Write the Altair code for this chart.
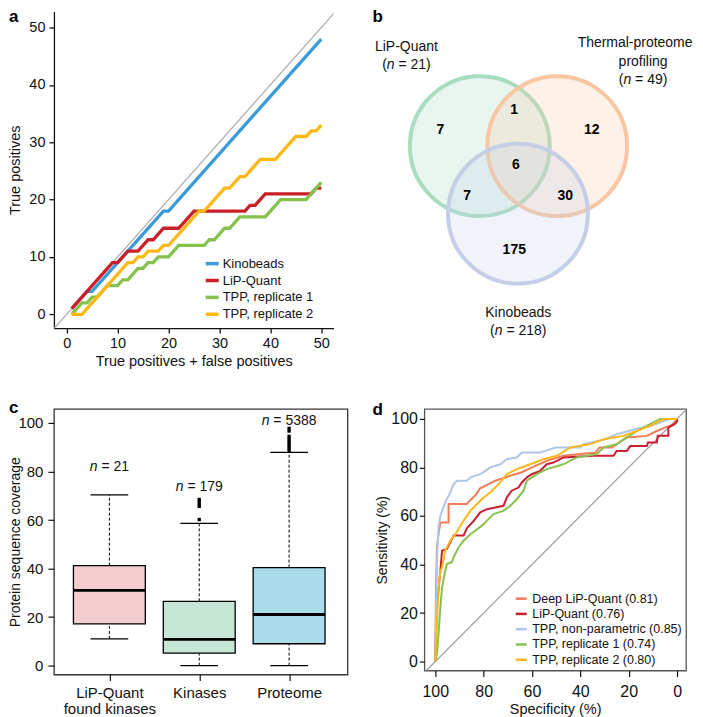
import altair as alt
import pandas as pd

FONT = "Liberation Sans"
BLACK = "#111111"

# ---------------- advance widths (Arial / Liberation Sans, 1/1000 em) -------------
ADV = {" ": 278, "(": 333, ")": 333, "=": 584, "n": 556}


def text_w(s, size):
    return sum(ADV.get(ch, 556) for ch in s) * size / 1000.0


# ---------------- panel a : cumulative true positives ----------------
a_names = ["Kinobeads", "LiP-Quant", "TPP, replicate 1", "TPP, replicate 2"]
a_colors = ["#3B9AD8", "#CA2029", "#84C24B", "#FDB813"]
kino_x = [1, 4, 5, 19, 20, 50]
kino_y = [1, 4, 4, 18, 18, 48]
lip_x = [1, 9, 10, 12, 14, 16, 17, 19, 22, 25, 35, 36, 37, 39, 48, 49, 50]
lip_y = [1, 9, 9, 11, 11, 13, 13, 15, 15, 18, 18, 19, 19, 21, 21, 22, 22]
tpp1_x = [1, 3, 4, 5, 6, 8, 10, 11, 12, 14, 15, 16, 17, 18, 20, 22, 27, 28, 29, 31, 32, 34, 39, 42, 47, 50]
tpp1_y = [0, 2, 2, 3, 3, 5, 5, 6, 6, 8, 8, 9, 9, 10, 10, 12, 12, 13, 13, 15, 15, 17, 17, 20, 20, 23]
tpp2_x = [1, 3, 12, 13, 14, 15, 16, 18, 19, 20, 26, 27, 31, 32, 34, 35, 38, 41, 45, 47, 48, 49, 50]
tpp2_y = [0, 0, 9, 9, 10, 10, 11, 11, 12, 12, 18, 18, 22, 22, 24, 24, 27, 27, 31, 31, 32, 32, 33]
a_ticks = [0, 10, 20, 30, 40, 50]
a_diag_vals = [-5, 60]

# ---------------- panel b : Venn diagram (layout units = px from panel origin) ----------------
b_sets = ["LiP-Quant", "Thermal-proteome profiling", "Kinobeads"]
b_colors = ["#A9DCC0", "#F8C6A2", "#C4CEE6"]
b_cx = [55.5, 133.0, 93.7]
b_cy = [134.8, 134.8, 202.5]
b_r = [79, 79, 79]
b_counts = ["7", "1", "12", "6", "7", "30", "175"]
b_count_x = [16, 90, 167.7, 91.7, 42.7, 141, 90]
b_count_y = [118.3, 98.3, 118.3, 154, 185, 185, 239.3]
b_title_lines = ["LiP-Quant", "profiling", "Kinobeads"]
b_title_x = [-18, 219, 94]
b_title_y = [36, 50.7, 301.7]
b_clip_lines = ["Thermal-proteome"]
b_clip_x = [211]
b_clip_y = [32]
b_n = [21, 49, 218]
b_n_x = [-18, 219, 94]
b_n_y = [54, 68.3, 320]

# ---------------- panel c : box plots ----------------
c_cats = ["LiP-Quant\nfound kinases", "Kinases", "Proteome"]
c_pos = [1, 2, 3]
c_lo = [11.0, 0.0, 0.0]
c_q1 = [17.2, 5.1, 9.0]
c_med = [31.0, 10.8, 21.1]
c_q3 = [41.2, 26.5, 40.4]
c_hi = [70.4, 58.6, 87.9]
c_fill = ["#F4CDD1", "#C6E7D6", "#A9DDEC"]
c_n = [21, 179, 5388]
c_n_y = [81.8, 73.5, 100.8]
c_out_pos = [2, 2, 2, 2, 2, 3, 3, 3, 3, 3, 3, 3, 3, 3]
c_out_val = [60.2, 65.6, 66.6, 67.6, 68.5, 88.5, 89.5, 90.5, 91.5, 92.5, 93.5, 94.5, 96.7, 97.8]
c_ticks = [0, 20, 40, 60, 80, 100]

# ---------------- panel d : ROC curves ----------------
d_names = ["Deep LiP-Quant", "LiP-Quant", "TPP, non-parametric", "TPP, replicate 1", "TPP, replicate 2"]
d_auc = ["0.81", "0.76", "0.85", "0.74", "0.80"]
d_colors = ["#F47B56", "#C91F2F", "#AFC5EA", "#86C24D", "#FDB71A"]
deep_spec = [100, 99.7, 99.3, 98.6, 97.9, 94.5, 94.5, 87.0, 85.5, 83.0, 81.6, 78.0, 75.2, 71.0, 67.0,
             64.2, 60.0, 54.0, 47.0, 40.0, 34.0, 32.0, 27.0, 21.0, 12.5, 8.4, 5.0, 1.5, 0.0]
deep_sens = [0, 30, 47, 53, 57.3, 57.3, 64.9, 64.9, 66.5, 69, 71.3, 73.1, 74.5, 75.9, 77.2,
             78, 80, 82.7, 84.8, 85.5, 86, 88.2, 88.2, 92.3, 93, 95, 96.5, 97.5, 100]
lipd_spec = [100, 99.5, 98.6, 97.9, 97.2, 95.2, 92.4, 88.3, 86.9, 84.1, 81.4, 78.6, 71.8, 70.4, 68.4,
             65.6, 64.2, 62.1, 60.1, 56.6, 53.9, 51.1, 47.0, 34.6, 26.3, 25.0, 20.8, 19.4, 12.5, 12.0,
             8.4, 8.0, 3.6, 3.6, 0.8, 0.0, 0.0]
lipd_sens = [0, 20, 30.6, 37.4, 45.7, 46.4, 51.9, 51.9, 55, 58, 61.5, 62.8, 64.2, 67.6, 70.4,
             71.7, 73.8, 75.9, 77.2, 78.6, 81.3, 82, 84.1, 84.8, 84.8, 86.8, 86.8, 88.8, 88.8, 90.3,
             90.3, 93, 93, 96.4, 98, 99, 100]
npar_spec = [100, 99.6, 99.2, 98.6, 97.9, 95.9, 93.8, 92.4, 91.0, 86.9, 85.5, 81.4, 79.3, 77.3, 73.1,
             70.4, 66.3, 64.2, 56.6, 50.4, 40.0, 38.7, 30.0, 24.9, 17.4, 11.2, 7.0, 3.0, 0.0]
npar_sens = [0, 25, 45, 56, 60, 65.6, 69.7, 73.1, 74.5, 74.5, 75.9, 77.2, 78.6, 80, 81.3,
             83.4, 84.1, 86.1, 86.1, 88.2, 88.2, 89.6, 91.5, 93.7, 95.7, 97.1, 98.5, 100, 100]
rep1_spec = [100, 99.3, 98.6, 97.9, 97.2, 95.9, 95.2, 93.1, 92.4, 90.4, 88.3, 85.5, 83.5, 80.7, 78.0,
             75.9, 71.8, 69.0, 66.3, 63.5, 62.1, 58.0, 53.9, 47.0, 41.5, 33.2, 30.4, 25.0, 20.8, 16.7,
             11.2, 7.0, 0.0]
rep1_sens = [0, 3.2, 12.3, 22.3, 30.6, 37.4, 40.2, 40.9, 43, 47, 49.8, 52.5, 53.9, 56, 58.7,
             60.8, 62.1, 64.2, 66.9, 70.4, 74.5, 77.2, 79.3, 81.3, 84.1, 85.5, 88.2, 89.6, 92.3, 95,
             97.8, 100, 100]
rep2_spec = [100, 99.3, 98.6, 97.9, 97.2, 95.9, 93.8, 91.7, 88.3, 85.5, 82.8, 80.0, 77.3, 73.8, 70.4,
             66.3, 60.7, 55.2, 49.7, 44.2, 35.9, 30.4, 22.2, 16.7, 11.2, 5.6, 0.0]
rep2_sens = [0, 16.9, 30.6, 37.4, 38.8, 45.7, 49.8, 52.5, 58, 62.1, 64.9, 67.6, 69.7, 73.1, 77.2,
             79.3, 81.3, 83.4, 84.8, 88.2, 89.6, 91.6, 93, 95, 97.1, 100, 100]
d_ticks = [0, 20, 40, 60, 80, 100]
d_diag_x = [110, -10]
d_diag_y = [-10, 110]

panel_letters = ["a", "b", "c", "d"]

# ============================ layout constants ============================
A_W, A_H = 280, 317
B_W, B_H = 271, 330
C_W, C_H = 294, 266
D_W, D_H = 262, 262
A_XDOM = [-2.5, 52.4]
A_YDOM = [-2.4, 52.8]
C_XDOM = [0.383, 3.65]
C_YDOM = [-3.7, 105.8]
D_XDOM = [-3.7, 104.5]
D_YDOM = [-3.7, 104.1]
BOX_HALF = 0.4
CAP_HALF = 0.21


def axis(**kw):
    base = dict(grid=False, labelFont=FONT, titleFont=FONT, labelColor=BLACK, titleColor=BLACK,
                tickColor=BLACK, domainColor=BLACK, titleFontWeight="normal", labelFlush=False,
                labelOverlap=False)
    base.update(kw)
    return alt.Axis(**base)


def letter(t, x, y, baseline):
    return alt.Chart(pd.DataFrame({"t": [t]})).mark_text(
        fontSize=17, fontWeight="bold", align="left", baseline=baseline, font=FONT, color="black"
    ).encode(text="t:N", x=alt.value(x), y=alt.value(y))


# ============================ panel a ============================
rows = []
for name, xs, ys in zip(a_names, [kino_x, lip_x, tpp1_x, tpp2_x], [kino_y, lip_y, tpp1_y, tpp2_y]):
    for i, (xv, yv) in enumerate(zip(xs, ys)):
        rows.append({"series": name, "x": xv, "y": yv, "o": i})
a_df = pd.DataFrame(rows)

ax_a = alt.X("x:Q", scale=alt.Scale(domain=A_XDOM, nice=False, zero=False),
             axis=axis(values=a_ticks, title="True positives + false positives", tickSize=5,
                       tickWidth=1.3, domainWidth=1.3, labelPadding=3, labelFontSize=14.5,
                       titleFontSize=14.5, titleY=34, titleBaseline="middle"))
ay_a = alt.Y("y:Q", scale=alt.Scale(domain=A_YDOM, nice=False, zero=False),
             axis=axis(values=a_ticks, title="True positives", tickSize=5, tickWidth=1.3,
                       domainWidth=1.3, labelPadding=4, labelFontSize=14.5, titleFontSize=14.5,
                       titleX=-38, titleBaseline="middle"))

a_diag = alt.Chart(pd.DataFrame({"x": a_diag_vals, "y": a_diag_vals})).mark_line(
    color="#B0B0B0", strokeWidth=1.3, clip=True).encode(x=ax_a, y=ay_a)
a_lines = alt.Chart(a_df).mark_line(strokeWidth=3.3, clip=True).encode(
    x=ax_a, y=ay_a, order="o:Q",
    color=alt.Color("series:N", sort=a_names,
                    scale=alt.Scale(domain=a_names, range=a_colors),
                    legend=alt.Legend(title=None, orient="none", legendX=150, legendY=244,
                                      symbolType="stroke", symbolStrokeWidth=3.5, symbolSize=170,
                                      labelFontSize=13, labelFont=FONT, labelColor=BLACK,
                                      rowPadding=0.9, labelOffset=2, padding=0)))
a_chart = alt.layer(a_diag, a_lines, letter(panel_letters[0], -45, -2, "top")).properties(
    width=A_W, height=A_H)

# ============================ panel b ============================
bx = alt.X("x:Q", scale=alt.Scale(domain=[0, B_W], nice=False, zero=False), axis=None)
by = alt.Y("y:Q", scale=alt.Scale(domain=[0, B_H], nice=False, zero=False, reverse=True), axis=None)

b_circ_df = pd.DataFrame({"set": b_sets, "x": b_cx, "y": b_cy,
                          "size": [3.14159265 * r * r for r in b_r], "o": [0, 1, 2]})
b_circles = alt.Chart(b_circ_df).mark_point(
    shape="circle", filled=True, opacity=1, fillOpacity=0.25, strokeOpacity=1, strokeWidth=4
).encode(
    x=bx, y=by, size=alt.Size("size:Q", scale=None, legend=None),
    fill=alt.Fill("set:N", scale=alt.Scale(domain=b_sets, range=b_colors), legend=None),
    stroke=alt.Stroke("set:N", scale=alt.Scale(domain=b_sets, range=b_colors), legend=None),
    order=alt.Order("o:Q"),
)

b_cnt = alt.Chart(pd.DataFrame({"t": b_counts, "x": b_count_x, "y": b_count_y})).mark_text(
    fontSize=14, fontWeight="bold", font=FONT, color="black", baseline="middle"
).encode(x=bx, y=by, text="t:N")

b_ttl = alt.Chart(pd.DataFrame({"t": b_title_lines, "x": b_title_x, "y": b_title_y})).mark_text(
    fontSize=14, font=FONT, color=BLACK, baseline="middle").encode(x=bx, y=by, text="t:N")
b_ttl_clip = alt.Chart(pd.DataFrame({"t": b_clip_lines, "x": b_clip_x, "y": b_clip_y})).mark_text(
    fontSize=14, font=FONT, color=BLACK, baseline="middle", clip=True).encode(x=bx, y=by, text="t:N")

b_parts = []
for n, cx, cy in zip(b_n, b_n_x, b_n_y):
    rest = "= %d)" % n
    total = text_w("(n " + rest, 14)
    start = cx - total / 2
    b_parts.append({"t": "(", "x": start, "y": cy, "it": 0})
    b_parts.append({"t": "n", "x": start + text_w("(", 14), "y": cy, "it": 1})
    b_parts.append({"t": rest, "x": start + text_w("(n ", 14), "y": cy, "it": 0})
b_parts_df = pd.DataFrame(b_parts)
b_n_norm = alt.Chart(b_parts_df[b_parts_df["it"] == 0]).mark_text(
    fontSize=14, font=FONT, color=BLACK, baseline="middle", align="left").encode(x=bx, y=by, text="t:N")
b_n_ital = alt.Chart(b_parts_df[b_parts_df["it"] == 1]).mark_text(
    fontSize=14, font=FONT, color=BLACK, baseline="middle", align="left", fontStyle="italic"
).encode(x=bx, y=by, text="t:N")

b_chart = alt.layer(b_circles, b_cnt, b_ttl, b_ttl_clip, b_n_norm, b_n_ital,
                    letter(panel_letters[1], -52, -2, "top")).properties(width=B_W, height=B_H)

# ============================ panel c ============================
c_df = pd.DataFrame({"cat": c_cats, "pos": c_pos, "lo": c_lo, "q1": c_q1, "med": c_med,
                     "q3": c_q3, "hi": c_hi})
c_df["x0"] = c_df["pos"] - BOX_HALF
c_df["x1"] = c_df["pos"] + BOX_HALF
c_df["c0"] = c_df["pos"] - CAP_HALF
c_df["c1"] = c_df["pos"] + CAP_HALF

label_expr = " : ".join(
    "datum.value == %d ? %s" % (p, str(c.split("\n"))) for p, c in zip(c_pos[:-1], c_cats[:-1])
) + " : " + str(c_cats[-1].split("\n"))

cx_ax = axis(values=c_pos, title=None, domain=False, tickSize=6, tickWidth=1.2, labelPadding=5,
             labelFontSize=15, labelExpr=label_expr, labelLineHeight=16)
cy_ax = axis(values=c_ticks, title="Protein sequence coverage", domain=False, tickSize=6,
             tickWidth=1.2, labelPadding=5, labelFontSize=15, titleFontSize=14, titleX=-38,
             titleBaseline="middle")
c_xs = alt.Scale(domain=C_XDOM, nice=False, zero=False)
c_ys = alt.Scale(domain=C_YDOM, nice=False, zero=False)

c_base = alt.Chart(c_df)
c_wu = c_base.mark_rule(color="black", strokeWidth=1, strokeDash=[3, 2]).encode(
    x=alt.X("pos:Q", scale=c_xs, axis=cx_ax), y=alt.Y("q3:Q", scale=c_ys, axis=cy_ax), y2="hi:Q")
c_wl = c_base.mark_rule(color="black", strokeWidth=1, strokeDash=[3, 2]).encode(
    x=alt.X("pos:Q", scale=c_xs), y=alt.Y("lo:Q", scale=c_ys), y2="q1:Q")
c_cap_hi = c_base.mark_rule(color="black", strokeWidth=1.3).encode(
    x=alt.X("c0:Q", scale=c_xs), x2="c1:Q", y=alt.Y("hi:Q", scale=c_ys))
c_cap_lo = c_base.mark_rule(color="black", strokeWidth=1.3).encode(
    x=alt.X("c0:Q", scale=c_xs), x2="c1:Q", y=alt.Y("lo:Q", scale=c_ys))
c_box = c_base.mark_rect(stroke="black", strokeWidth=1.3).encode(
    x=alt.X("x0:Q", scale=c_xs), x2="x1:Q", y=alt.Y("q1:Q", scale=c_ys), y2="q3:Q",
    fill=alt.Fill("cat:N", scale=alt.Scale(domain=c_cats, range=c_fill), legend=None))
c_medl = c_base.mark_rule(color="black", strokeWidth=3).encode(
    x=alt.X("x0:Q", scale=c_xs), x2="x1:Q", y=alt.Y("med:Q", scale=c_ys))
c_out = alt.Chart(pd.DataFrame({"pos": c_out_pos, "v": c_out_val})).mark_square(
    size=11, color="black", opacity=1).encode(
    x=alt.X("pos:Q", scale=c_xs), y=alt.Y("v:Q", scale=c_ys))

ppu_c = C_W / (C_XDOM[1] - C_XDOM[0])
c_parts = []
for n, p, yv in zip(c_n, c_pos, c_n_y):
    rest = "= %d" % n
    total = text_w("n " + rest, 14)
    start = p - total / 2 / ppu_c
    c_parts.append({"t": "n", "x": start, "y": yv, "it": 1})
    c_parts.append({"t": rest, "x": start + text_w("n ", 14) / ppu_c, "y": yv, "it": 0})
c_parts_df = pd.DataFrame(c_parts)
c_n_norm = alt.Chart(c_parts_df[c_parts_df["it"] == 0]).mark_text(
    fontSize=14, font=FONT, color=BLACK, baseline="middle", align="left").encode(
    x=alt.X("x:Q", scale=c_xs), y=alt.Y("y:Q", scale=c_ys), text="t:N")
c_n_ital = alt.Chart(c_parts_df[c_parts_df["it"] == 1]).mark_text(
    fontSize=14, font=FONT, color=BLACK, baseline="middle", align="left", fontStyle="italic").encode(
    x=alt.X("x:Q", scale=c_xs), y=alt.Y("y:Q", scale=c_ys), text="t:N")

c_chart = alt.layer(c_wu, c_wl, c_cap_hi, c_cap_lo, c_box, c_medl, c_out, c_n_norm, c_n_ital,
                    letter(panel_letters[2], -45, 4, "alphabetic")).properties(
    width=C_W, height=C_H, view=alt.ViewBackground(stroke="#333333", strokeWidth=1.3))

# ============================ panel d ============================
rows = []
d_labels = ["%s (%s)" % (n, a) for n, a in zip(d_names, d_auc)]
for lab, xs, ys in zip(d_labels, [deep_spec, lipd_spec, npar_spec, rep1_spec, rep2_spec],
                       [deep_sens, lipd_sens, npar_sens, rep1_sens, rep2_sens]):
    for i, (xv, yv) in enumerate(zip(xs, ys)):
        rows.append({"series": lab, "spec": xv, "sens": yv, "o": i})
d_df = pd.DataFrame(rows)

dx_ax = axis(values=d_ticks, title="Specificity (%)", domain=False, tickSize=6, tickWidth=1.2,
             labelPadding=7, labelFontSize=16, titleFontSize=14.5, titleY=39, titleBaseline="middle")
dy_ax = axis(values=d_ticks, title="Sensitivity (%)", domain=False, tickSize=5, tickWidth=1.2,
             labelPadding=2, labelFontSize=16, titleFontSize=14, titleX=-42, titleBaseline="middle")
d_xs = alt.Scale(domain=D_XDOM, nice=False, zero=False, reverse=True)
d_ys = alt.Scale(domain=D_YDOM, nice=False, zero=False)

d_diag = alt.Chart(pd.DataFrame({"spec": d_diag_x, "sens": d_diag_y})).mark_line(
    color="#A0A0A0", strokeWidth=1.3, clip=True).encode(
    x=alt.X("spec:Q", scale=d_xs, axis=dx_ax), y=alt.Y("sens:Q", scale=d_ys, axis=dy_ax))
d_lines = alt.Chart(d_df).mark_line(strokeWidth=2, clip=True).encode(
    x=alt.X("spec:Q", scale=d_xs), y=alt.Y("sens:Q", scale=d_ys), order="o:Q",
    color=alt.Color("series:N", sort=d_labels,
                    scale=alt.Scale(domain=d_labels, range=d_colors),
                    legend=alt.Legend(title=None, orient="none", legendX=90, legendY=183,
                                      symbolType="stroke", symbolStrokeWidth=2.5, symbolSize=121,
                                      labelFontSize=12.5, labelFont=FONT, labelColor=BLACK,
                                      rowPadding=1.3, labelOffset=4, padding=0)))
d_chart = alt.layer(d_diag, d_lines, letter(panel_letters[3], -52, 6, "alphabetic")).properties(
    width=D_W, height=D_H, view=alt.ViewBackground(stroke="#555555", strokeWidth=1.3))

# ============================ assemble ============================
chart = alt.concat(
    a_chart, b_chart, c_chart, d_chart, columns=2, bounds="flush",
    spacing={"row": 68, "column": 77},
).resolve_scale(
    x="independent", y="independent", color="independent", fill="independent",
    stroke="independent", size="independent",
).resolve_legend(color="independent").properties(
    padding=0).configure(font=FONT).configure_view(stroke=None)

chart.save("out.html", embed_options={"renderer": "svg", "actions": False})
